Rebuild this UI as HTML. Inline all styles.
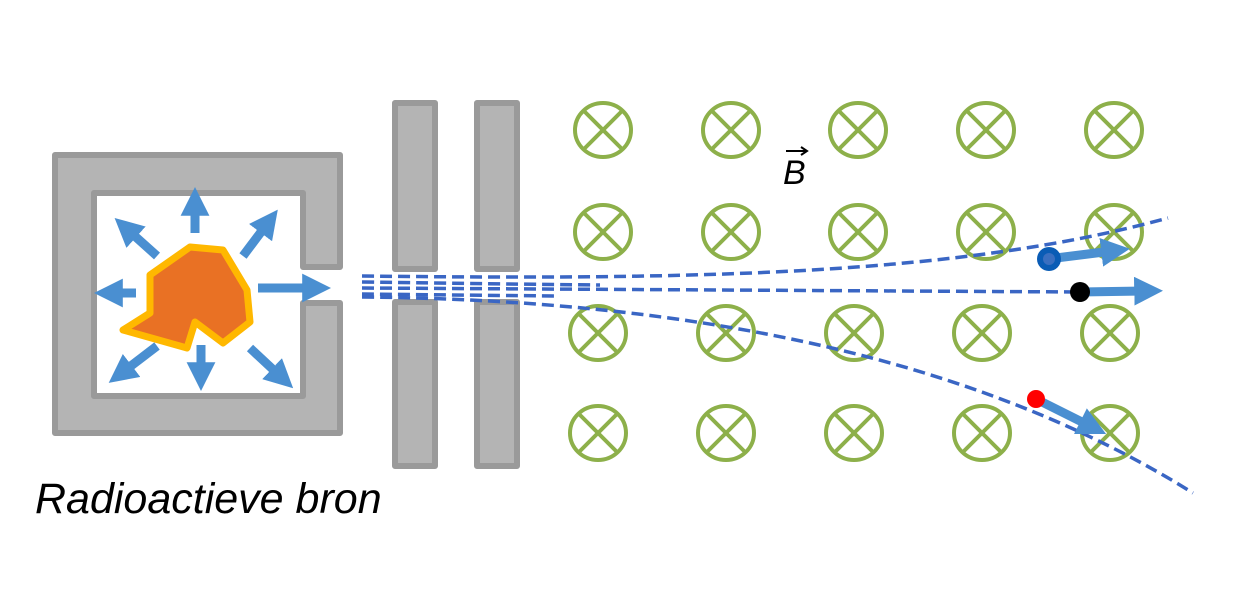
<!DOCTYPE html>
<html><head><meta charset="utf-8"><style>body{margin:0;background:#fff}svg{display:block}</style></head><body>
<svg width="1235" height="601" viewBox="0 0 1235 601" xmlns="http://www.w3.org/2000/svg">
<defs>
<marker id="ah" markerWidth="3.2" markerHeight="3.2" refX="1.2" refY="1.6" orient="auto" markerUnits="strokeWidth"><path d="M0,0 L3.2,1.6 L0,3.2 Z" fill="#4a8fd1"/></marker>
<g id="c" stroke="#8db04a" stroke-width="4" fill="none"><ellipse cx="0" cy="0" rx="28" ry="27"/><line x1="-19" y1="-19" x2="19" y2="19"/><line x1="-19" y1="19" x2="19" y2="-19"/></g>
</defs>
<path d="M55,155 H340 V267 H303 V193 H94 V396 H303 V303 H340 V433 H55 Z" fill="#b4b4b4" stroke="#9a9a9a" stroke-width="6" stroke-linejoin="round"/>
<rect x="97" y="196" width="203" height="197" fill="#fff"/>
<polygon points="190,247 223,250 247,290 250,322 223,343 195,322 187,348 123,330 150,313 150,275" fill="#e97124" stroke="#ffb800" stroke-width="7" stroke-linejoin="round"/>
<g stroke="#4a8fd1" stroke-width="9" fill="none" marker-end="url(#ah)">
<line x1="195" y1="233" x2="195" y2="205"/>
<line x1="258" y1="288" x2="313" y2="288"/>
<line x1="136" y1="293" x2="112" y2="293"/>
<line x1="201" y1="345" x2="201" y2="373"/>
<line x1="157" y1="256" x2="128" y2="230"/>
<line x1="243" y1="256" x2="267" y2="224"/>
<line x1="157" y1="346" x2="123" y2="372"/>
<line x1="250" y1="348" x2="280" y2="376"/>
</g>
<g fill="#b4b4b4" stroke="#9a9a9a" stroke-width="6" stroke-linejoin="round">
<rect x="395" y="103" width="40" height="166"/>
<rect x="477" y="103" width="40" height="166"/>
<rect x="395" y="302" width="40" height="164"/>
<rect x="477" y="302" width="40" height="164"/>
</g>
<use href="#c" x="603" y="130"/><use href="#c" x="731" y="130"/><use href="#c" x="858" y="130"/><use href="#c" x="986" y="130"/><use href="#c" x="1114" y="130"/>
<use href="#c" x="603" y="232"/><use href="#c" x="731" y="232"/><use href="#c" x="858" y="232"/><use href="#c" x="986" y="232"/><use href="#c" x="1114" y="232"/>
<use href="#c" x="598" y="333"/><use href="#c" x="726" y="333"/><use href="#c" x="854" y="333"/><use href="#c" x="982" y="333"/><use href="#c" x="1110" y="333"/>
<use href="#c" x="598" y="433"/><use href="#c" x="726" y="433"/><use href="#c" x="854" y="433"/><use href="#c" x="982" y="433"/><use href="#c" x="1110" y="433"/>
<text x="783" y="184" font-family="Liberation Sans, sans-serif" font-style="italic" font-size="34" fill="#000">B</text>
<path d="M786,151 H806 M801,147 L807,151 L801,155" stroke="#000" stroke-width="2" fill="none"/>
<g stroke="#3a66c4" stroke-width="3.5" fill="none" stroke-dasharray="12,6">
<path d="M362,276 C700,280 960,275 1168,218"/>
<path d="M362,282 Q500,284 600,285"/>
<path d="M362,288 L1080,292"/>
<path d="M362,294 Q450,295 560,296"/>
<path d="M362,297 C700,300 980,360 1193,493"/>
</g>
<g stroke="#4a8fd1" stroke-width="9" fill="none" marker-end="url(#ah)">
<line x1="1048" y1="259" x2="1112" y2="251"/>
<line x1="1080" y1="292" x2="1145" y2="291"/>
<line x1="1036" y1="399" x2="1090" y2="426"/>
</g>
<circle cx="1049" cy="259" r="12" fill="#0a5cb5"/><circle cx="1049" cy="259" r="6" fill="#3a6fc0"/>
<circle cx="1080" cy="292" r="10" fill="#000"/>
<circle cx="1036" cy="399" r="9" fill="#ff0000"/>
<text x="35" y="513" font-family="Liberation Sans, sans-serif" font-style="italic" font-size="43" fill="#000">Radioactieve bron</text>
</svg>
</body></html>
